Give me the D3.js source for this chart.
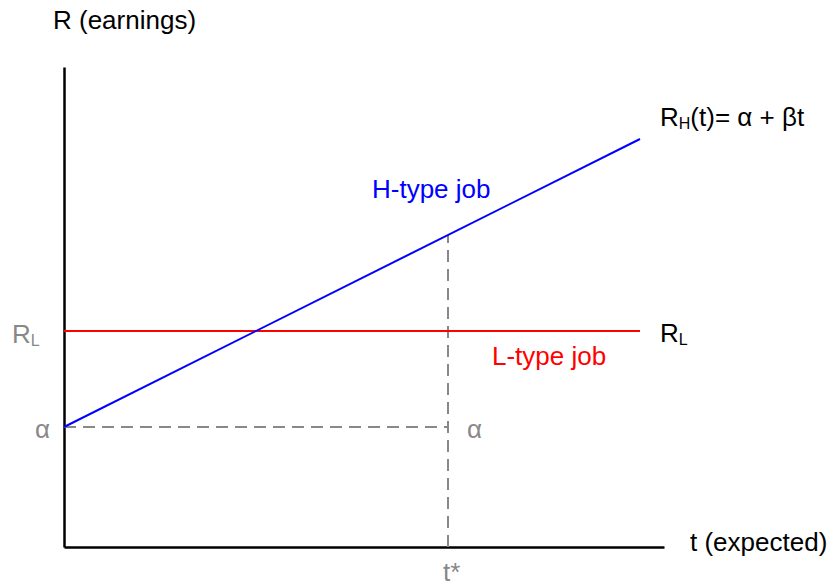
<!DOCTYPE html>
<html>

<head>
    <title>earnings vs expected tenure</title>
    <script src="https://d3js.org/d3.v7.min.js"></script>
    <style>
        body {
            margin: 0;
            background: #fff;
        }

        text {
            font-family: "Liberation Sans", Arial, sans-serif;
        }

        .axis path {
            stroke: black;
            stroke-width: 2.5;
        }
    </style>
</head>

<body>
    <div id="chart"></div>
    <script>
        // model parameters
        const alpha = 25;
        const beta = 0.625;
        const rLow = 45;
        const tStar = 64;
        const tRange = [0, 96];

        // labels
        const axisTitles = ["R (earnings)", "t (expected)"];
        const lineLabels = ["H-type job", "L-type job"];

        const width = 834, height = 586;

        const x = d3.scaleLinear().domain([0, 100]).range([64, 664]);
        const y = d3.scaleLinear().domain([0, 100]).range([547, 67]);

        const svg = d3.select("#chart")
            .append("svg")
            .attr("width", width)
            .attr("height", height);

        // axes without ticks
        svg.append("g")
            .attr("class", "axis")
            .attr("transform", `translate(0,${y(0)})`)
            .call(d3.axisBottom(x).tickValues([]).tickSizeOuter(0));
        svg.append("g")
            .attr("class", "axis")
            .attr("transform", `translate(${x(0)},0)`)
            .call(d3.axisLeft(y).tickValues([]).tickSizeOuter(0));

        const line = d3.line().x(d => x(d.t)).y(d => y(d.r));
        const hData = tRange.map(t => ({ t: t, r: alpha + beta * t }));
        const lData = tRange.map(t => ({ t: t, r: rLow }));

        // dashed guides
        const guide = [
            [{ t: 0, r: alpha }, { t: tStar, r: alpha }],
            [{ t: tStar, r: 0 }, { t: tStar, r: alpha + beta * tStar }]
        ];
        svg.selectAll(".guide")
            .data(guide)
            .join("path")
            .attr("class", "guide")
            .attr("fill", "none")
            .attr("stroke", "#888")
            .attr("stroke-width", 2)
            .attr("stroke-dasharray", "12,7")
            .attr("d", line);

        svg.append("path")
            .datum(lData)
            .attr("fill", "none")
            .attr("stroke", "#ff0000")
            .attr("stroke-width", 2)
            .attr("d", line);

        svg.append("path")
            .datum(hData)
            .attr("fill", "none")
            .attr("stroke", "#0000ff")
            .attr("stroke-width", 2)
            .attr("d", line);

        // helper for text with an optional subscript
        function label(px, py, main, sub, rest, color) {
            const t = svg.append("text")
                .attr("x", px)
                .attr("y", py)
                .attr("font-size", 26)
                .attr("fill", color);
            t.append("tspan").text(main);
            if (sub) {
                t.append("tspan").attr("font-size", 16).attr("dy", 3).text(sub);
                if (rest) t.append("tspan").attr("dy", -3).text(rest);
            }
            return t;
        }

        label(53, 29, axisTitles[0], null, null, "black");
        label(690, 551, axisTitles[1], null, null, "black");
        label(x(tRange[1]) + 20, y(alpha + beta * tRange[1]) - 13, "R", "H", "(t)= α + βt", "black");
        label(x(tRange[1]) + 20, y(rLow) + 11, "R", "L", null, "black");
        label(12, y(rLow) + 12, "R", "L", null, "#888");
        label(35, y(alpha) + 11, "α", null, null, "#888");
        label(x(tStar) + 19, y(alpha) + 11, "α", null, null, "#888");
        label(x(tStar) - 5, 581, "t*", null, null, "#888");
        label(372, 198, lineLabels[0], null, null, "#0000ff");
        label(492, 365, lineLabels[1], null, null, "#ff0000");
    </script>
</body>

</html>
